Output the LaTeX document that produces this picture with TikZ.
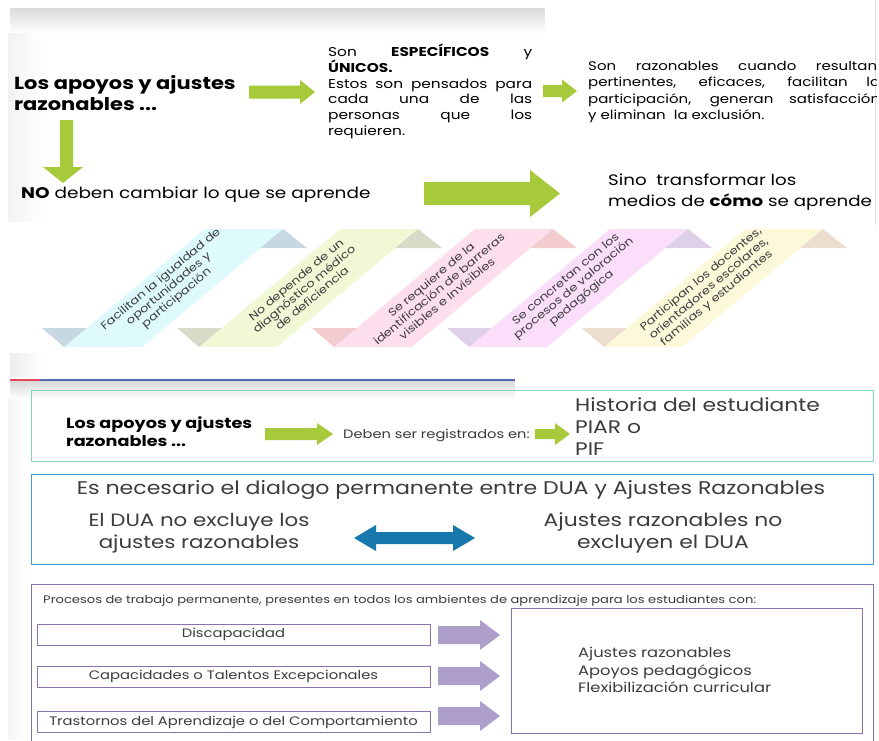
\documentclass[tikz,border=0pt]{standalone}
\usepackage{fontspec}
\setmainfont{Poppins}[FakeStretch=1.2]
\definecolor{agreen}{RGB}{167,202,58}
\definecolor{ablue}{RGB}{22,120,172}
\definecolor{apurp}{RGB}{174,158,202}
\definecolor{pborder}{RGB}{140,112,172}
\definecolor{tborder}{RGB}{128,214,192}
\definecolor{bborder}{RGB}{70,155,215}
\definecolor{lineblue}{RGB}{80,105,175}
\definecolor{linered}{RGB}{230,70,90}
\definecolor{txtgray}{RGB}{60,60,60}
\definecolor{rAl}{RGB}{222,250,253}\definecolor{rAd}{RGB}{200,216,226}
\definecolor{rBl}{RGB}{240,248,214}\definecolor{rBd}{RGB}{214,220,200}
\definecolor{rCl}{RGB}{253,222,236}\definecolor{rCd}{RGB}{242,204,206}
\definecolor{rDl}{RGB}{250,222,250}\definecolor{rDd}{RGB}{222,208,232}
\definecolor{rEl}{RGB}{252,248,218}\definecolor{rEd}{RGB}{236,222,206}
\newcommand\blockarrow[7]{\fill[#1] (#2,#5-#6) -- (#3,#5-#6) -- (#3,#5-#7) -- (#4,#5) -- (#3,#5+#7) -- (#3,#5+#6) -- (#2,#5+#6) -- cycle;}
\newcommand\myribbon[5]{%
 \fill[#2] (#1+22,347) -- (#1+100,347) -- (#1+241,229) -- (#1+163,229) -- cycle;
 \fill[#3] (#1,328) -- (#1+44.7,328) -- (#1+22,347) -- cycle;
 \fill[#3] (#1+241,229) -- (#1+265,248) -- (#1+218.3,248) -- cycle;
 \node[ribtext] (#4) at (#1+127,289) {#5};}
% vertical fade: x1 y1 x2 y2 startpercent (dark at y1)
\newcommand\vgrad[5]{\foreach \k in {0,...,19}{\pgfmathsetmacro\pc{#5*(1-\k/20)}\fill[gray!\pc] ({#1},{#2+(#4-#2)*\k/20}) rectangle ({#3},{#2+(#4-#2)*(\k+1)/20+0.3});}}
% horizontal fade: dark at x1
\newcommand\hgrad[5]{\foreach \k in {0,...,19}{\pgfmathsetmacro\pc{#5*(1-\k/20)}\fill[gray!\pc] ({#1+(#3-#1)*\k/20},{#2}) rectangle ({#1+(#3-#1)*(\k+1)/20+0.3},{#4});}}
\begin{document}
\begin{tikzpicture}[x=1pt,y=-1pt,
  ribtext/.style={rotate=40,align=center,font=\fontsize{10.8}{12.2}\selectfont,text=txtgray,inner sep=0pt},
  plain/.style={inner sep=0pt,anchor=west},
  catbox/.style={draw=pborder,line width=0.9pt,minimum width=393pt,minimum height=21pt,inner sep=0pt,font=\fontsize{12.3}{14}\selectfont,text=txtgray}]
\useasboundingbox (0,0) rectangle (879,740);
\fill[white] (0,0) rectangle (879,740);
% ---- top panel shadows
\vgrad{10}{8}{545}{33}{28}
\hgrad{8}{33}{43}{222}{10}
\draw[gray!25,line width=1pt] (875,0) -- (875,225);
\hgrad{10}{353}{43}{377}{14}
% ---- top texts
\node[plain,align=left,font=\bfseries\fontsize{17.5}{21}\selectfont] (title) at (14,93) {Los apoyos y ajustes\\razonables ...};
\blockarrow{agreen}{249}{300}{315}{92}{6.5}{12}
\node[plain,align=left,font=\fontsize{12.8}{15.8}\selectfont] (espec) at (328,91.5) {%
\makebox[204pt][s]{Son \textbf{ESPECÍFICOS} y}\\
\textbf{ÚNICOS.}\\
\makebox[204pt][s]{Estos son pensados para}\\
\makebox[204pt][s]{cada una de las}\\
\makebox[204pt][s]{personas que los}\\
requieren.};
\blockarrow{agreen}{543}{562}{577}{91}{6}{11.5}
\begin{scope}
\clip (580,50) rectangle (876,135);
\node[plain,align=left,font=\fontsize{12.5}{16.5}\selectfont] (razon) at (588,92) {%
\makebox[289pt][s]{Son razonables cuando resultan}\\
\makebox[292pt][s]{pertinentes, eficaces, facilitan la}\\
\makebox[292pt][s]{participación, generan satisfacción}\\
y eliminan\ \ la exclusión.};
\end{scope}
% down arrow
\fill[agreen] (60,120) -- (73,120) -- (73,167) -- (83,167) -- (63,183) -- (43,167) -- (60,167) -- cycle;
\node[plain,font=\fontsize{15.4}{19}\selectfont] (nodeben) at (21,195) {\textbf{NO} deben cambiar lo que se aprende};
\blockarrow{agreen}{424}{530}{560}{193.5}{11.5}{23.5}
\node[plain,align=left,font=\fontsize{15.2}{21}\selectfont] (sino) at (608,192.5) {Sino\ \ transformar los\\medios de \textbf{cómo} se aprende};
% ---- ribbons
\myribbon{42}{rAl}{rAd}{r1}{Facilitan la igualdad de\\oportunidades y\\participación}
\myribbon{177}{rBl}{rBd}{r2}{No depende de un\\diagnóstico médico\\de deficiencia}
\myribbon{312}{rCl}{rCd}{r3}{Se requiere de la\\identificación de barreras\\visibles e Invisibles}
\myribbon{447}{rDl}{rDd}{r4}{Se concretan con los\\procesos de valoración\\pedagógica}
\myribbon{582}{rEl}{rEd}{r5}{Participan los docentes,\\orientadores escolares,\\familias y estudiantes}
% ---- lower panel decorations
\vgrad{10}{381}{515}{399}{30}
\hgrad{8}{399}{26}{740}{8}
\draw[lineblue,line width=1.6pt] (40,380) -- (515,380);
\draw[linered,line width=2pt] (10,380) -- (40,380);
% ---- box A
\draw[tborder,line width=1pt] (31,390) rectangle (873,461);
\node[plain,align=left,font=\bfseries\fontsize{14.7}{18}\selectfont] (apoyos2) at (66,432) {Los apoyos y ajustes\\razonables ...};
\blockarrow{agreen}{265}{317}{333}{434}{6}{11}
\node[plain,font=\fontsize{12.2}{14}\selectfont,text=txtgray] (deben) at (343,435) {Deben ser registrados en:};
\blockarrow{agreen}{535}{555}{570}{434}{5}{11}
\node[plain,align=left,font=\fontsize{18.2}{22}\selectfont,text=txtgray] (historia) at (575,427) {Historia del estudiante\\PIAR o\\PIF};
% ---- box B
\draw[bborder,line width=1pt] (31,474) rectangle (873,564);
\node[inner sep=0pt,font=\fontsize{18.4}{21}\selectfont,text=txtgray] (dialogo) at (451,490) {Es necesario el dialogo permanente entre DUA y Ajustes Razonables};
\node[inner sep=0pt,align=center,font=\fontsize{17.8}{22.5}\selectfont,text=txtgray] (dua1) at (199,533) {El DUA no excluye los\\ajustes razonables};
\node[inner sep=0pt,align=center,font=\fontsize{18.2}{22.5}\selectfont,text=txtgray] (dua2) at (663,533) {Ajustes razonables no\\excluyen el DUA};
\fill[ablue] (354,538) -- (376,525) -- (376,532) -- (453,532) -- (453,525) -- (475,538) -- (453,551) -- (453,544) -- (376,544) -- (376,551) -- cycle;
% ---- box C
\begin{scope}
\clip (0,0) rectangle (879,740);
\draw[pborder,line width=1pt] (31,584) rectangle (873,760);
\end{scope}
\node[plain,font=\fontsize{10.9}{12}\selectfont,text=txtgray] (procesos) at (43,601) {Procesos de trabajo permanente, presentes en todos los ambientes de aprendizaje para los estudiantes con:};
\node[catbox] (disc) at (233.5,634.5) {Discapacidad};
\node[catbox] (cap) at (233.5,676.5) {Capacidades o Talentos Excepcionales};
\node[catbox] (tras) at (233.5,722) {Trastornos del Aprendizaje o del Comportamiento};
\blockarrow{apurp}{438}{480}{500}{635}{9}{15}
\blockarrow{apurp}{438}{480}{500}{676}{9}{15}
\blockarrow{apurp}{438}{480}{500}{716}{9}{15}
\node[draw=pborder,line width=0.9pt,minimum width=351pt,minimum height=125pt,inner sep=0pt] (result) at (686.5,670.5) {};
\node[plain,align=left,font=\fontsize{13.6}{17.5}\selectfont,text=txtgray] (resulttxt) at (578,670) {Ajustes razonables\\Apoyos pedagógicos\\Flexibilización curricular};
\end{tikzpicture}
\end{document}
